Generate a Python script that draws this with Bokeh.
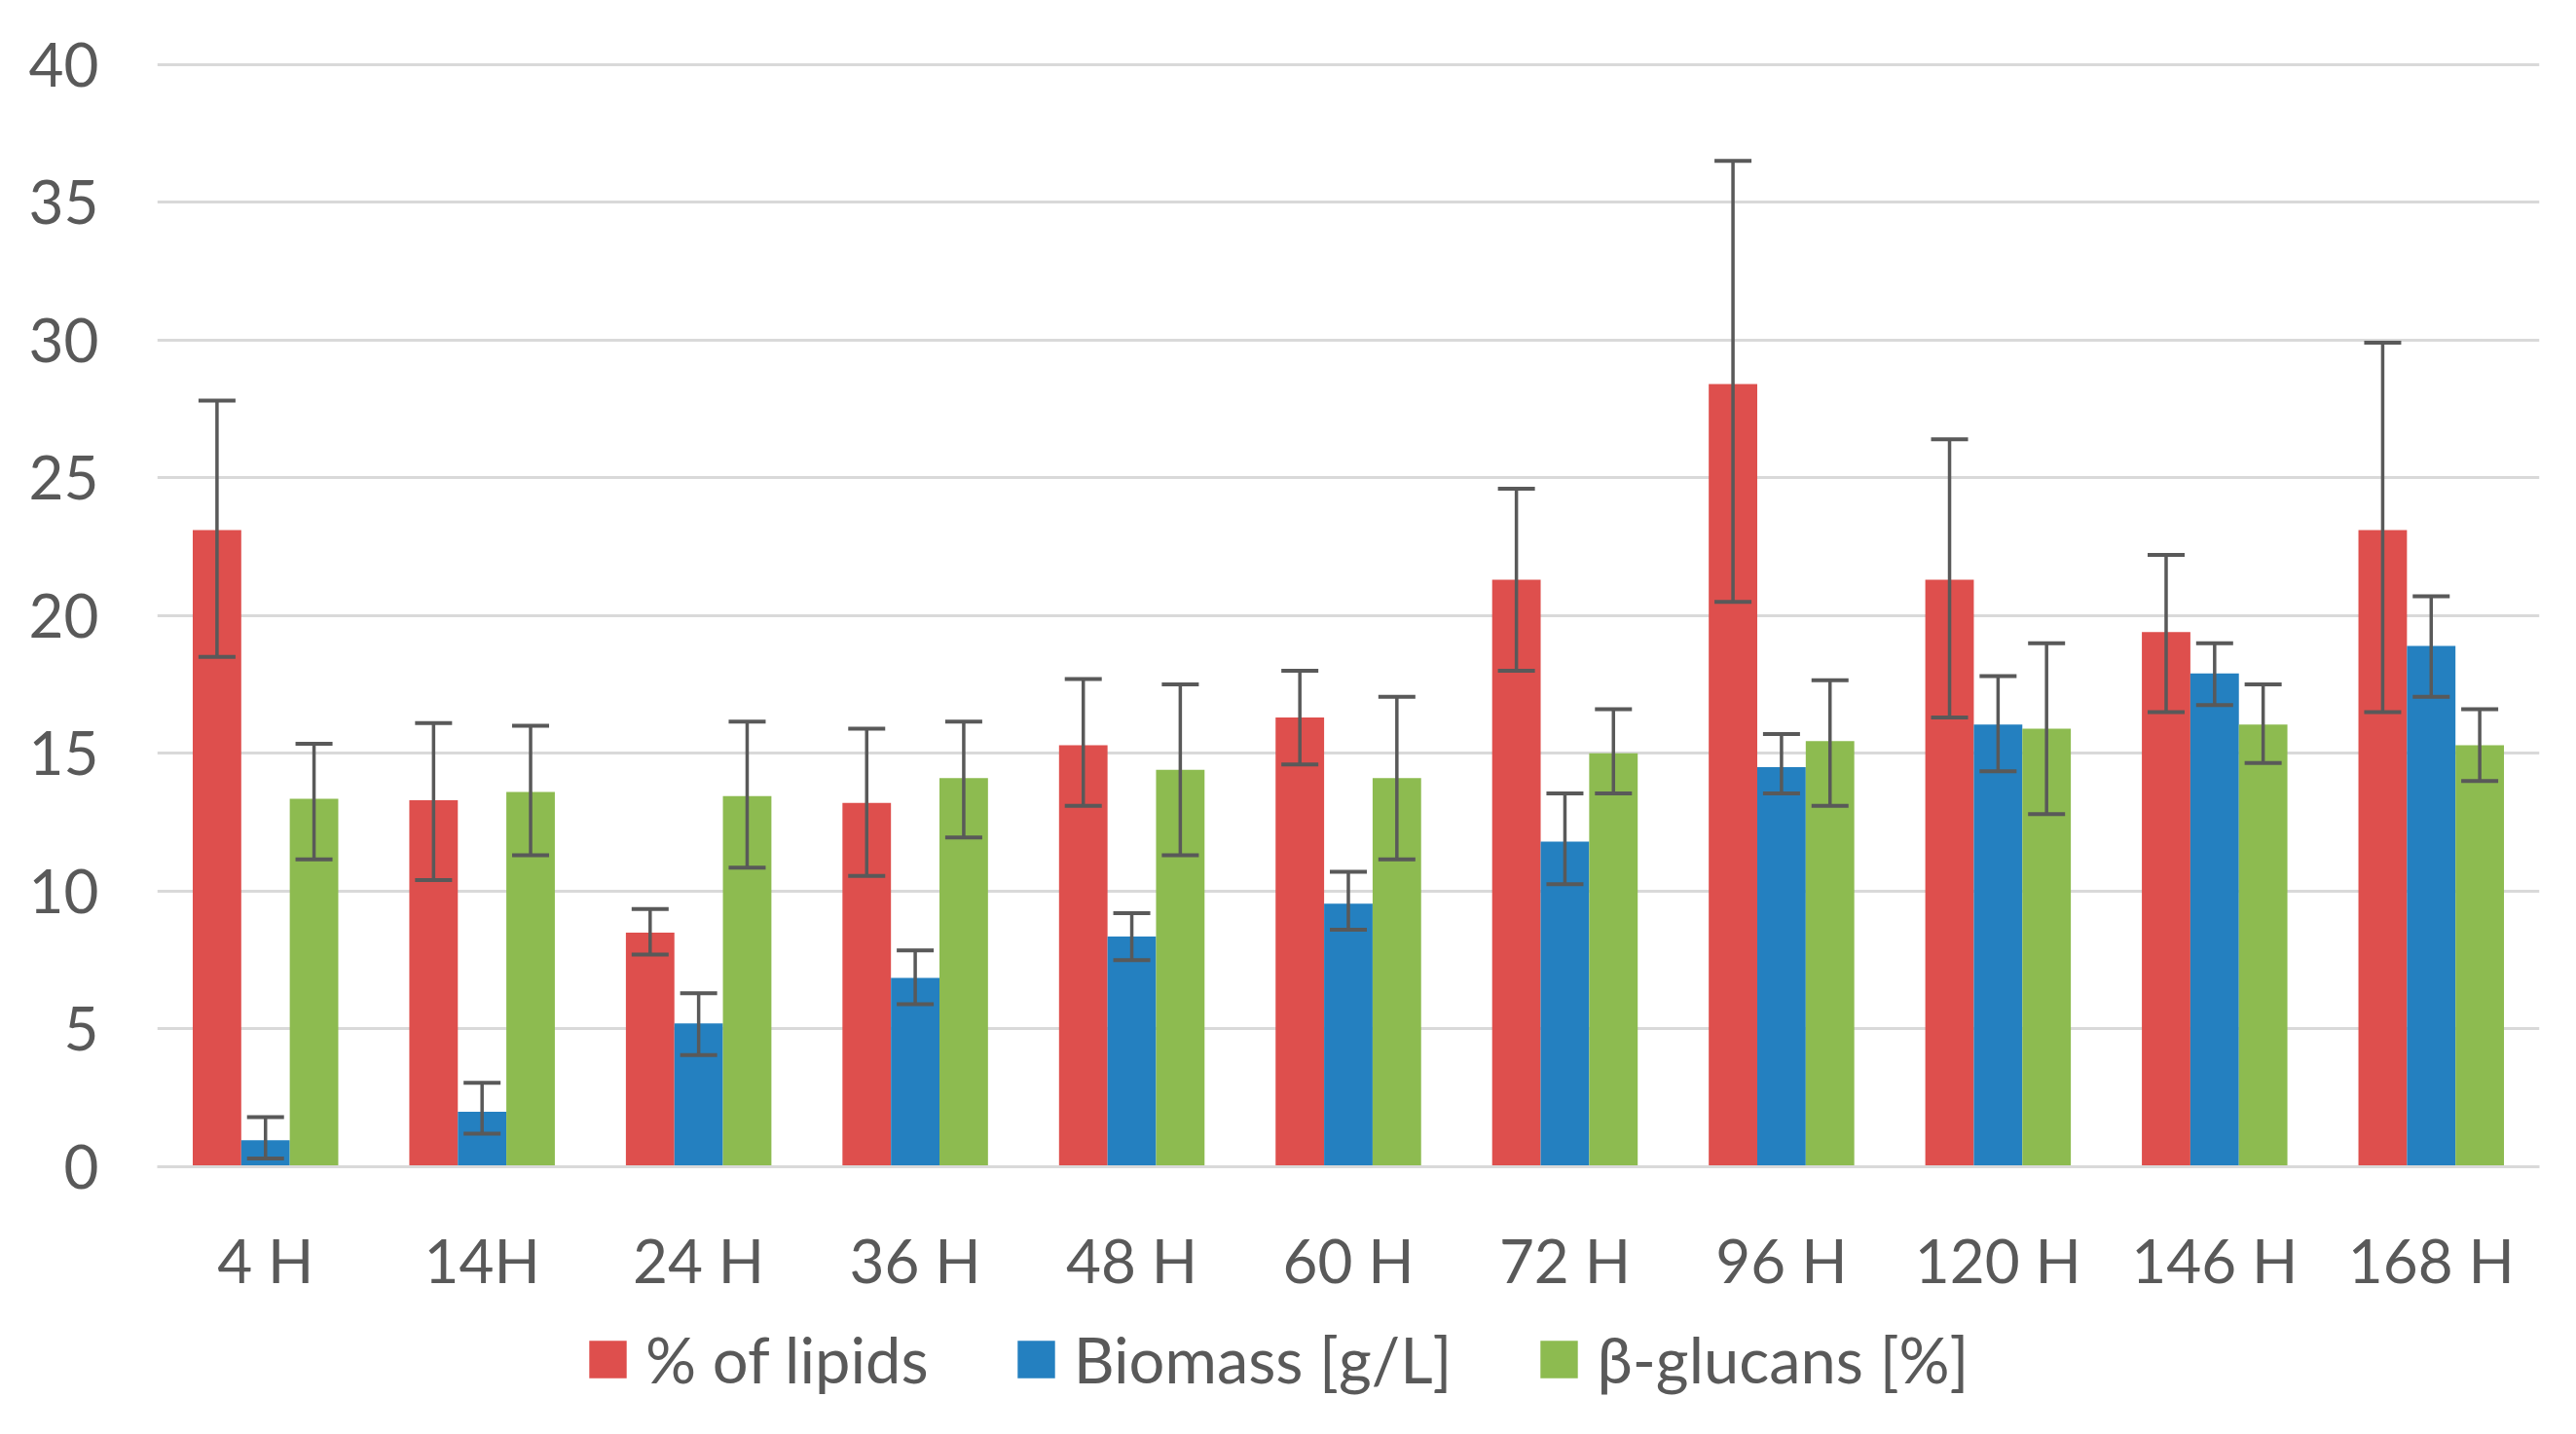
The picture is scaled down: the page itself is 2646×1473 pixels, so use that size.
from bokeh.plotting import figure
from bokeh.models import (ColumnDataSource, FactorRange, Range1d, Whisker, TeeHead,
                          Legend, LegendItem, FixedTicker)
from bokeh.layouts import column
from bokeh.transform import dodge
from bokeh.embed import file_html
from bokeh.resources import INLINE

categories = ["4 H", "14H", "24 H", "36 H", "48 H", "60 H", "72 H", "96 H", "120 H", "146 H", "168 H"]

lipids    = [23.1, 13.3, 8.5, 13.2, 15.3, 16.3, 21.3, 28.4, 21.3, 19.4, 23.1]
lipids_hi = [27.8, 16.1, 9.35, 15.9, 17.7, 18.0, 24.6, 36.5, 26.4, 22.2, 29.9]
lipids_lo = [18.5, 10.4, 7.7, 10.55, 13.1, 14.6, 18.0, 20.5, 16.3, 16.5, 16.5]

biomass    = [0.96, 2.0, 5.2, 6.85, 8.35, 9.55, 11.8, 14.5, 16.05, 17.9, 18.9]
biomass_hi = [1.8, 3.05, 6.3, 7.85, 9.2, 10.7, 13.55, 15.7, 17.8, 19.0, 20.7]
biomass_lo = [0.3, 1.2, 4.05, 5.9, 7.5, 8.6, 10.25, 13.55, 14.35, 16.75, 17.05]

glucans    = [13.35, 13.6, 13.45, 14.1, 14.4, 14.1, 15.0, 15.45, 15.9, 16.05, 15.3]
glucans_hi = [15.35, 16.0, 16.15, 16.15, 17.5, 17.05, 16.6, 17.65, 19.0, 17.5, 16.6]
glucans_lo = [11.15, 11.3, 10.85, 11.95, 11.3, 11.15, 13.55, 13.1, 12.8, 14.65, 14.0]

series_names = ["% of lipids", "Biomass [g/L]", "β-glucans [%]"]
y_ticks = [0, 5, 10, 15, 20, 25, 30, 35, 40]

FONT = "Lato"
TEXT = "#595959"
GRID = "#d9d9d9"
colors = ["#de4f4d", "#2480c0", "#8dbb50"]
BAR_W = 0.224

x_range = FactorRange(*categories, range_padding=0)
p = figure(x_range=x_range, y_range=Range1d(0, 40.2),
           width=2630, height=1345, output_backend="svg", toolbar_location=None,
           min_border_left=161, min_border_right=22, min_border_top=60, min_border_bottom=147)
p.outline_line_color = None
p.background_fill_color = "white"
p.border_fill_color = "white"

# legend strip below the chart (same data, drawn as zero-height marks far outside its window)
pl = figure(width=2630, height=112, x_range=x_range, y_range=Range1d(1000, 1001),
            output_backend="svg", toolbar_location=None,
            min_border_left=161, min_border_right=22, min_border_top=0, min_border_bottom=0)
pl.outline_line_color = None
pl.axis.visible = False
pl.grid.visible = False

series = [(lipids, lipids_hi, lipids_lo), (biomass, biomass_hi, biomass_lo),
          (glucans, glucans_hi, glucans_lo)]
offsets = [-BAR_W, 0.0, BAR_W]
items = []
for (vals, hi, lo), off, col, name in zip(series, offsets, colors, series_names):
    src = ColumnDataSource(dict(cat=categories, val=vals, hi=hi, lo=lo))
    p.vbar(x=dodge("cat", off, range=x_range), top="val", bottom=0, width=BAR_W,
           source=src, fill_color=col, line_color=None)
    w = Whisker(base=dodge("cat", off, range=x_range), upper="hi", lower="lo", source=src,
                line_color="#595959", line_width=3.5, level="annotation",
                upper_head=TeeHead(size=38, line_color="#595959", line_width=4),
                lower_head=TeeHead(size=38, line_color="#595959", line_width=4))
    p.add_layout(w)
    rl = pl.vbar(x=dodge("cat", off, range=x_range), top="val", bottom="val", width=BAR_W,
                 source=src, fill_color=col, line_color=None)
    items.append(LegendItem(label=name, renderers=[rl]))

p.yaxis.ticker = FixedTicker(ticks=y_ticks)
p.ygrid.grid_line_color = GRID
p.ygrid.grid_line_width = 3
p.xgrid.grid_line_color = None

for ax in (p.xaxis, p.yaxis):
    ax.major_tick_line_color = None
    ax.minor_tick_line_color = None
    ax.major_label_text_font = FONT
    ax.major_label_text_font_size = "62px"
    ax.major_label_text_color = TEXT
p.yaxis.axis_line_color = None
p.yaxis.major_label_standoff = 54
p.xaxis.axis_line_color = GRID
p.xaxis.axis_line_width = 3
p.xaxis.major_label_standoff = 52

legend = Legend(items=items, orientation="horizontal", location=(439, 22),
                glyph_width=48, glyph_height=48, label_standoff=15, spacing=86,
                padding=0, margin=0, border_line_color=None, background_fill_alpha=0,
                label_text_font=FONT, label_text_font_size="65px", label_text_color=TEXT)
pl.add_layout(legend)

layout = column(p, pl, spacing=0)
open("out.html", "w").write(file_html(layout, INLINE))
